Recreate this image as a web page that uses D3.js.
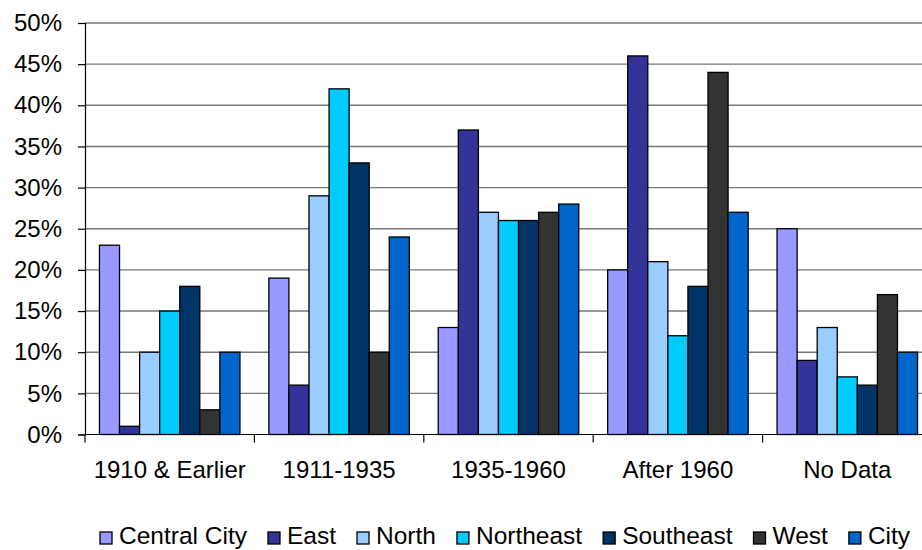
<!DOCTYPE html>
<html>
<head>
<meta charset="utf-8">
<script src="https://cdn.jsdelivr.net/npm/d3@7"></script>
<style>
  body { margin: 0; background: #fff; }
  svg { display: block; font-family: "Liberation Sans", Arial, sans-serif; }
</style>
</head>
<body>
<svg id="chart"></svg>
<script>
// Chart data
const periods = ['1910 & Earlier', '1911-1935', '1935-1960', 'After 1960', 'No Data'];
const seriesNames = ['Central City', 'East', 'North', 'Northeast', 'Southeast', 'West', 'City'];
const seriesColors = ['#9999FF', '#333399', '#99CCFF', '#00CCFF', '#003366', '#333333', '#0066CC'];

const centralCity = [23, 19, 13, 20, 25];
const east = [1, 6, 37, 46, 9];
const north = [10, 29, 27, 21, 13];
const northeast = [15, 42, 26, 12, 7];
const southeast = [18, 33, 26, 18, 6];
const west = [3, 10, 27, 44, 17];
const city = [10, 24, 28, 27, 10];

const yTicks = [0, 5, 10, 15, 20, 25, 30, 35, 40, 45, 50];

const seriesValues = [centralCity, east, north, northeast, southeast, west, city];

const width = 922, height = 550;
const plot = { left: 85, top: 23, right: 932, bottom: 434.5 };

const svg = d3.select('#chart')
    .attr('width', width)
    .attr('height', height);

const x0 = d3.scaleBand()
    .domain(periods)
    .range([plot.left, plot.right]);

const x1 = d3.scaleBand()
    .domain(seriesNames)
    .range([0, x0.bandwidth()])
    .paddingOuter(0.72);

const y = d3.scaleLinear()
    .domain([0, 50])
    .range([plot.bottom, plot.top]);

// Gridlines
svg.append('g')
    .selectAll('line')
    .data(yTicks.slice(1))
    .join('line')
    .attr('x1', plot.left)
    .attr('x2', width)
    .attr('y1', d => y(d))
    .attr('y2', d => y(d))
    .attr('stroke', '#777')
    .attr('stroke-width', 1.4);

// Bars
const groups = svg.append('g')
    .selectAll('g')
    .data(periods)
    .join('g')
    .attr('transform', d => `translate(${x0(d)},0)`);

groups.selectAll('rect')
    .data((p, i) => seriesNames.map((s, j) => ({ series: s, value: seriesValues[j][i], color: seriesColors[j] })))
    .join('rect')
    .attr('x', d => x1(d.series))
    .attr('y', d => y(d.value))
    .attr('width', x1.bandwidth())
    .attr('height', d => y(0) - y(d.value))
    .attr('fill', d => d.color)
    .attr('stroke', '#000')
    .attr('stroke-width', 1.3);

// Y axis
const yAxis = d3.axisLeft(y)
    .tickValues(yTicks)
    .tickFormat(d => d + '%')
    .tickSize(7)
    .tickPadding(16);

const yAxisGroup = svg.append('g')
    .attr('transform', `translate(${plot.left},0)`)
    .call(yAxis);

yAxisGroup.select('.domain').attr('stroke', '#000').attr('stroke-width', 1.2);
yAxisGroup.selectAll('.tick line').attr('stroke', '#000').attr('stroke-width', 1.2);
yAxisGroup.selectAll('.tick text')
    .attr('fill', '#000')
    .style('font-size', '24px')
    .style('font-family', '"Liberation Sans", Arial, sans-serif');

// X axis
svg.append('line')
    .attr('x1', plot.left)
    .attr('x2', width)
    .attr('y1', y(0))
    .attr('y2', y(0))
    .attr('stroke', '#000')
    .attr('stroke-width', 1.2);

svg.append('g')
    .selectAll('line')
    .data(periods.concat(['end']))
    .join('line')
    .attr('x1', (d, i) => plot.left + i * x0.step())
    .attr('x2', (d, i) => plot.left + i * x0.step())
    .attr('y1', y(0))
    .attr('y2', y(0) + 8)
    .attr('stroke', '#000')
    .attr('stroke-width', 1.2);

svg.append('g')
    .selectAll('text')
    .data(periods)
    .join('text')
    .attr('x', d => x0(d) + x0.bandwidth() / 2)
    .attr('y', 478)
    .attr('text-anchor', 'middle')
    .style('font-size', '24px')
    .text(d => d);

// Legend
const legend = svg.append('g').attr('class', 'legend');
let lx = 100;
seriesNames.forEach((name, i) => {
    legend.append('rect')
        .attr('x', lx)
        .attr('y', 532)
        .attr('width', 12)
        .attr('height', 12)
        .attr('fill', seriesColors[i])
        .attr('stroke', '#000')
        .attr('stroke-width', 1.3);

    const t = legend.append('text')
        .attr('x', lx + 19)
        .attr('y', 544)
        .style('font-size', '24.5px')
        .text(name);

    lx += 19 + t.node().getComputedTextLength() + 21;
});
</script>
</body>
</html>
